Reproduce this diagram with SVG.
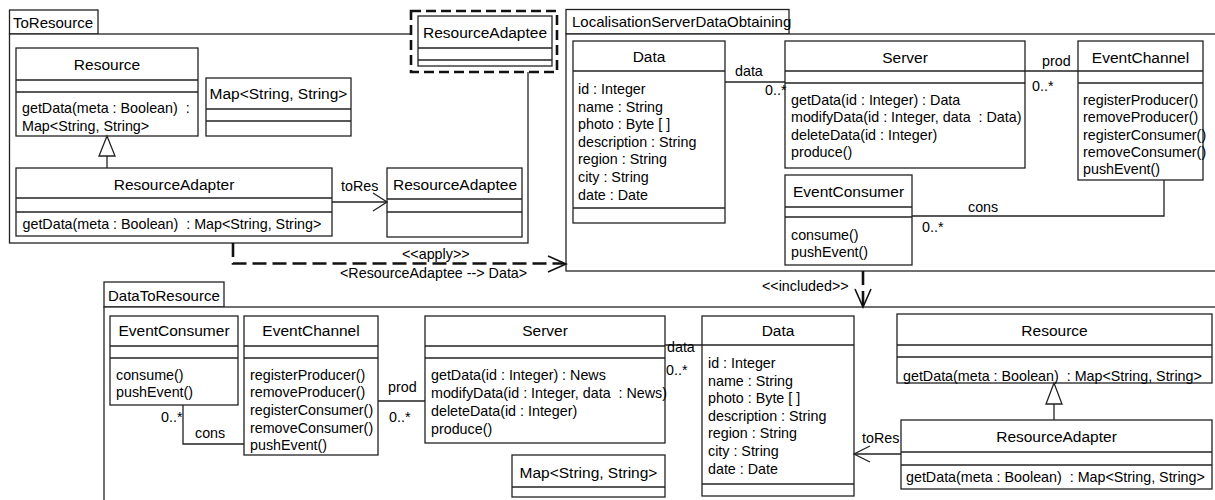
<svg xmlns="http://www.w3.org/2000/svg" width="1215" height="500" viewBox="0 0 1215 500" xml:space="preserve">
<style>
text{font-family:"Liberation Sans",Arial,sans-serif;fill:#000;white-space:pre}
.nm{font-size:15.5px;text-anchor:middle}
.tx{font-size:14.3px}
.pk{font-size:15px}
.box{fill:#fff;stroke:#222;stroke-width:1.3}
.ln{fill:none;stroke:#222;stroke-width:1.3}
.dash{fill:none;stroke:#111;stroke-width:2.6;stroke-dasharray:14 6}
.dbox{fill:#fff;stroke:#111;stroke-width:2.6;stroke-dasharray:10 5}
.arr{fill:none;stroke:#111;stroke-width:1.6}
.tri{fill:#fff;stroke:#222;stroke-width:1.3}
</style>
<rect width="1215" height="500" fill="#fff"/>

<!-- packages -->
<g id="pkg-ToResource">
<rect class="box" x="9.5" y="10" width="88.5" height="24"/>
<rect class="box" x="9.5" y="34" width="518.5" height="209"/>
<text class="pk" x="13" y="28">ToResource</text>
</g>
<g id="pkg-LocalisationServerDataObtaining">
<rect class="box" x="566" y="9.5" width="223" height="24.5"/>
<rect class="box" x="566" y="34" width="660" height="237"/>
<text class="pk" x="572" y="27">LocalisationServerDataObtaining</text>
</g>
<g id="pkg-DataToResource">
<rect class="box" x="104" y="282" width="120" height="25"/>
<rect class="box" x="104" y="307" width="1122" height="210"/>
<text class="pk" x="108" y="301">DataToResource</text>
</g>

<!-- template parameter -->
<g id="tpl-ResourceAdaptee">
<rect class="dbox" x="411" y="11" width="146" height="61"/>
<rect class="box" x="418" y="16" width="134" height="50"/>
<line class="ln" x1="418" y1="48" x2="552" y2="48"/>
<line class="ln" x1="418" y1="60" x2="552" y2="60"/>
<text class="nm" x="485" y="38">ResourceAdaptee</text>
</g>

<!-- ToResource classes -->
<g id="t-Resource">
<rect class="box" x="16" y="48" width="182" height="88"/>
<line class="ln" x1="16" y1="80" x2="198" y2="80"/>
<line class="ln" x1="16" y1="92" x2="198" y2="92"/>
<text class="nm" x="107" y="70">Resource</text>
<text class="tx" x="22" y="113">getData(meta : Boolean)  :</text>
<text class="tx" x="22" y="131">Map&lt;String, String&gt;</text>
</g>
<g id="t-Map">
<rect class="box" x="206" y="78" width="145" height="58"/>
<line class="ln" x1="206" y1="109" x2="351" y2="109"/>
<line class="ln" x1="206" y1="121" x2="351" y2="121"/>
<text class="nm" x="278.5" y="99">Map&lt;String, String&gt;</text>
</g>
<g id="t-ResourceAdapter">
<rect class="box" x="16" y="168" width="316" height="68"/>
<line class="ln" x1="16" y1="198" x2="332" y2="198"/>
<line class="ln" x1="16" y1="212" x2="332" y2="212"/>
<text class="nm" x="174" y="190">ResourceAdapter</text>
<text class="tx" x="22.5" y="229">getData(meta : Boolean)  : Map&lt;String, String&gt;</text>
</g>
<g id="t-ResourceAdaptee">
<rect class="box" x="387" y="168" width="135" height="69"/>
<line class="ln" x1="387" y1="199" x2="522" y2="199"/>
<line class="ln" x1="387" y1="212" x2="522" y2="212"/>
<text class="nm" x="455" y="190">ResourceAdaptee</text>
</g>

<!-- LocalisationServerDataObtaining classes -->
<g id="l-Data">
<rect class="box" x="573" y="41" width="152" height="182"/>
<line class="ln" x1="573" y1="71" x2="725" y2="71"/>
<line class="ln" x1="573" y1="208" x2="725" y2="208"/>
<text class="nm" x="649" y="62">Data</text>
<text class="tx" x="578" y="94">id : Integer</text>
<text class="tx" x="578" y="112">name : String</text>
<text class="tx" x="578" y="129">photo : Byte [ ]</text>
<text class="tx" x="578" y="147">description : String</text>
<text class="tx" x="578" y="164">region : String</text>
<text class="tx" x="578" y="182">city : String</text>
<text class="tx" x="578" y="200">date : Date</text>
</g>
<g id="l-Server">
<rect class="box" x="785" y="41" width="240" height="127"/>
<line class="ln" x1="785" y1="71" x2="1025" y2="71"/>
<line class="ln" x1="785" y1="83" x2="1025" y2="83"/>
<text class="nm" x="905" y="63">Server</text>
<text class="tx" x="791" y="105">getData(id : Integer) : Data</text>
<text class="tx" x="791" y="122">modifyData(id : Integer, data  : Data)</text>
<text class="tx" x="791" y="139.5">deleteData(id : Integer)</text>
<text class="tx" x="791" y="157">produce()</text>
</g>
<g id="l-EventChannel">
<rect class="box" x="1078" y="41" width="125" height="139"/>
<line class="ln" x1="1078" y1="71" x2="1203" y2="71"/>
<line class="ln" x1="1078" y1="83" x2="1203" y2="83"/>
<text class="nm" x="1140.5" y="63">EventChannel</text>
<text class="tx" x="1083" y="105">registerProducer()</text>
<text class="tx" x="1083" y="122">removeProducer()</text>
<text class="tx" x="1083" y="139.5">registerConsumer()</text>
<text class="tx" x="1083" y="157">removeConsumer()</text>
<text class="tx" x="1083" y="174">pushEvent()</text>
</g>
<g id="l-EventConsumer">
<rect class="box" x="785" y="175" width="127" height="90"/>
<line class="ln" x1="785" y1="207" x2="912" y2="207"/>
<line class="ln" x1="785" y1="217" x2="912" y2="217"/>
<text class="nm" x="848.5" y="197">EventConsumer</text>
<text class="tx" x="791" y="240">consume()</text>
<text class="tx" x="791" y="257">pushEvent()</text>
</g>

<!-- DataToResource classes -->
<g id="d-EventConsumer">
<rect class="box" x="110" y="316" width="128" height="89"/>
<line class="ln" x1="110" y1="346" x2="238" y2="346"/>
<line class="ln" x1="110" y1="358" x2="238" y2="358"/>
<text class="nm" x="174" y="336">EventConsumer</text>
<text class="tx" x="116" y="380">consume()</text>
<text class="tx" x="116" y="397">pushEvent()</text>
</g>
<g id="d-EventChannel">
<rect class="box" x="244" y="316" width="134" height="139"/>
<line class="ln" x1="244" y1="346" x2="378" y2="346"/>
<line class="ln" x1="244" y1="358" x2="378" y2="358"/>
<text class="nm" x="311" y="336">EventChannel</text>
<text class="tx" x="250" y="380">registerProducer()</text>
<text class="tx" x="250" y="397">removeProducer()</text>
<text class="tx" x="250" y="415">registerConsumer()</text>
<text class="tx" x="250" y="432.5">removeConsumer()</text>
<text class="tx" x="250" y="450">pushEvent()</text>
</g>
<g id="d-Server">
<rect class="box" x="425" y="316" width="240" height="127"/>
<line class="ln" x1="425" y1="346" x2="665" y2="346"/>
<line class="ln" x1="425" y1="358" x2="665" y2="358"/>
<text class="nm" x="545" y="336">Server</text>
<text class="tx" x="431" y="380">getData(id : Integer) : News</text>
<text class="tx" x="431" y="398">modifyData(id : Integer, data  : News)</text>
<text class="tx" x="431" y="416">deleteData(id : Integer)</text>
<text class="tx" x="431" y="434">produce()</text>
</g>
<g id="d-Map">
<rect class="box" x="512" y="455" width="153" height="42"/>
<line class="ln" x1="512" y1="487" x2="665" y2="487"/>
<text class="nm" x="588.5" y="478">Map&lt;String, String&gt;</text>
</g>
<g id="d-Data">
<rect class="box" x="702" y="316" width="152" height="180"/>
<line class="ln" x1="702" y1="345" x2="854" y2="345"/>
<line class="ln" x1="702" y1="484" x2="854" y2="484"/>
<text class="nm" x="778" y="336">Data</text>
<text class="tx" x="708" y="368">id : Integer</text>
<text class="tx" x="708" y="386">name : String</text>
<text class="tx" x="708" y="403">photo : Byte [ ]</text>
<text class="tx" x="708" y="421">description : String</text>
<text class="tx" x="708" y="438">region : String</text>
<text class="tx" x="708" y="456">city : String</text>
<text class="tx" x="708" y="474">date : Date</text>
</g>
<g id="d-Resource">
<rect class="box" x="897" y="314" width="315" height="69"/>
<line class="ln" x1="897" y1="345" x2="1212" y2="345"/>
<line class="ln" x1="897" y1="357" x2="1212" y2="357"/>
<text class="nm" x="1054.5" y="336">Resource</text>
<text class="tx" x="903" y="381">getData(meta : Boolean)  : Map&lt;String, String&gt;</text>
</g>
<g id="d-ResourceAdapter">
<rect class="box" x="901" y="420" width="311" height="69"/>
<line class="ln" x1="901" y1="452" x2="1212" y2="452"/>
<line class="ln" x1="901" y1="465" x2="1212" y2="465"/>
<text class="nm" x="1056.5" y="442">ResourceAdapter</text>
<text class="tx" x="906" y="482">getData(meta : Boolean)  : Map&lt;String, String&gt;</text>
</g>

<!-- connectors -->
<g id="connectors">
<line class="ln" x1="107" y1="156" x2="107" y2="168"/>
<polygon class="tri" points="107,136 99,156 115,156"/>
<line class="ln" x1="332" y1="202" x2="387" y2="202"/>
<polyline class="ln" points="373,193 387,202 373,211"/>
<text class="tx" x="341" y="191">toRes</text>
<path class="dash" d="M233,243 V263.5 H564"/>
<polyline class="arr" points="548,256 566,264 548,272" stroke-width="2"/>
<text class="tx" x="402" y="259">&lt;&lt;apply&gt;&gt;</text>
<text class="tx" x="340" y="278">&lt;ResourceAdaptee --&gt; Data&gt;</text>
<line class="ln" x1="725" y1="82" x2="785" y2="82"/>
<text class="tx" x="735" y="76">data</text>
<text class="tx" x="765" y="95">0..*</text>
<line class="ln" x1="1025" y1="71" x2="1078" y2="71"/>
<text class="tx" x="1042" y="66">prod</text>
<text class="tx" x="1032" y="91">0..*</text>
<polyline class="ln" points="912,216 1164,216 1164,180"/>
<text class="tx" x="968" y="212">cons</text>
<text class="tx" x="922" y="232">0..*</text>
<line class="dash" x1="863" y1="271" x2="863" y2="306" stroke-dasharray="22 6"/>
<polyline class="arr" points="855,289 863,307 871,289" stroke-width="2"/>
<text class="tx" x="762" y="291">&lt;&lt;included&gt;&gt;</text>
<polyline class="ln" points="183,405 183,444 244,444"/>
<text class="tx" x="195" y="438">cons</text>
<text class="tx" x="161" y="422">0..*</text>
<line class="ln" x1="378" y1="401" x2="425" y2="401"/>
<text class="tx" x="388" y="392">prod</text>
<text class="tx" x="389" y="422">0..*</text>
<line class="ln" x1="665" y1="345" x2="702" y2="345"/>
<text class="tx" x="667" y="352">data</text>
<text class="tx" x="666" y="375">0..*</text>
<line class="ln" x1="1054" y1="404" x2="1054" y2="420"/>
<polygon class="tri" points="1054,383 1046,404 1062,404"/>
<line class="ln" x1="901" y1="454" x2="854" y2="454"/>
<polyline class="ln" points="870,446 854,454 870,462"/>
<text class="tx" x="862" y="443">toRes</text>
</g>
</svg>
